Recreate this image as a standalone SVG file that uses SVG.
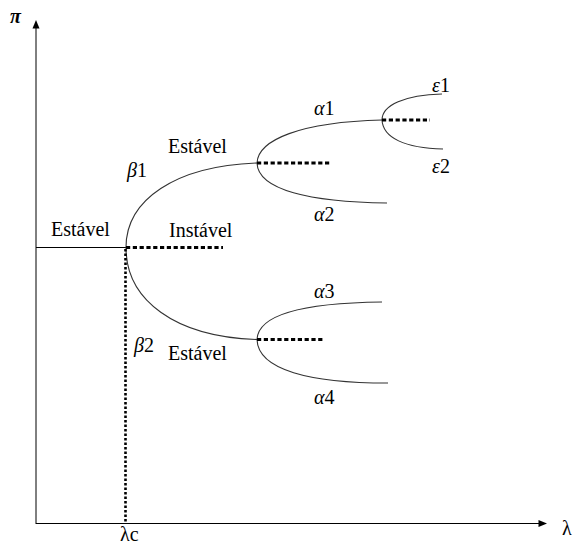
<svg xmlns="http://www.w3.org/2000/svg" width="576" height="544" viewBox="0 0 576 544">
<style>
.ax{stroke:#000;stroke-width:1;fill:none}
.cv{stroke:#333;stroke-width:1.1;fill:none}
.dh{stroke:#000;stroke-width:3;stroke-dasharray:4.2 2.6;fill:none}
.dv{stroke:#000;stroke-width:2.6;stroke-dasharray:2.4 2.1;fill:none}
text{font-family:"Liberation Serif","Times New Roman",serif;font-size:20px;fill:#000}
.g{font-style:italic}
</style>
<rect width="576" height="544" fill="#fff"/>
<g id="axes">
<line class="ax" x1="36" y1="524" x2="36" y2="27"/>
<polygon points="36,20 32.5,28.5 39.5,28.5" fill="#000"/>
<line class="ax" x1="36" y1="523.5" x2="540" y2="523.5"/>
<polygon points="547,523.5 538.5,520 538.5,527" fill="#000"/>
<text x="10" y="23" class="g" font-weight="bold">π</text>
<text x="562" y="535">λ</text>
<text x="120" y="541">λc</text>
</g>
<g id="connectors">
<line class="ax" x1="36" y1="247.5" x2="126" y2="247.5"/>
<path class="cv" d="M126,247.5 C126,200 175,166 257,163"/>
<path class="cv" d="M126,247.5 C126,300 175,337 257,339.5"/>
<path class="cv" d="M257,163 C258,140 300,122 382,120"/>
<path class="cv" d="M257,163 C258,190 310,202 387,203"/>
<path class="cv" d="M382,120 C382,105 405,95 442,94"/>
<path class="cv" d="M382,120 C383,138 405,148 443,149"/>
<path class="cv" d="M257,339.5 C258,315 300,303 382,302"/>
<path class="cv" d="M257,339.5 C258,370 310,383 388,383"/>
<line class="dh" x1="126" y1="247.5" x2="223" y2="247.5"/>
<line class="dv" x1="125.5" y1="249" x2="125.5" y2="524"/>
<line class="dh" x1="257" y1="163" x2="331" y2="163"/>
<line class="dh" x1="382" y1="120" x2="430" y2="120"/>
<line class="dh" x1="257" y1="339.5" x2="324" y2="339.5"/>
</g>
<g id="labels">
<text x="51" y="236">Estável</text>
<text x="169" y="237">Instável</text>
<text x="168" y="153">Estável</text>
<text x="168" y="360">Estável</text>
<text x="127" y="177"><tspan class="g">β</tspan>1</text>
<text x="134" y="352"><tspan class="g">β</tspan>2</text>
<text x="314" y="115"><tspan class="g">α</tspan>1</text>
<text x="314" y="221"><tspan class="g">α</tspan>2</text>
<text x="314" y="298"><tspan class="g">α</tspan>3</text>
<text x="314" y="404"><tspan class="g">α</tspan>4</text>
<text x="432" y="92"><tspan class="g">ε</tspan>1</text>
<text x="432" y="173"><tspan class="g">ε</tspan>2</text>
</g>
</svg>
